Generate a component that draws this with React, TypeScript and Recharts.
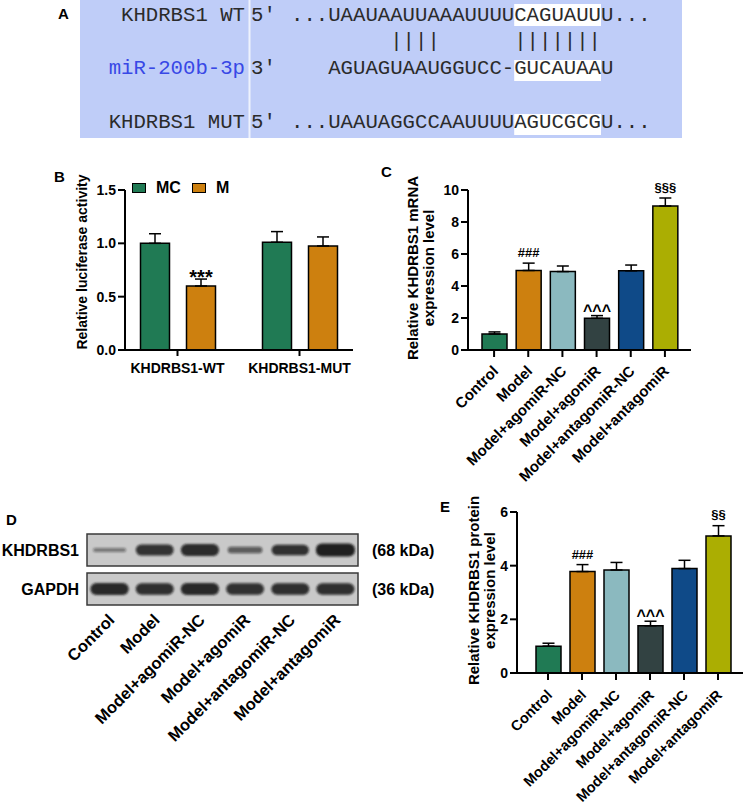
import React from 'react';
import {
  BarChart, Bar, XAxis, YAxis, ErrorBar, LabelList, Legend, Cell,
  ComposedChart, Scatter, ReferenceArea,
} from 'recharts';

const SANS = "'Liberation Sans', Arial, Helvetica, sans-serif";
const MONO = "'Liberation Mono', 'Courier New', monospace";

// ---------- Panel A: alignment ----------
const alignLabels = ['KHDRBS1 WT', 'miR-200b-3p', 'KHDRBS1 MUT'];
const alignEnds = ["5'", "3'", "5'"];
const alignSeqs = ['...UAAUAAUUAAAUUUUCAGUAUUU...', '   AGUAGUAAUGGUCC-GUCAUAAU', '...UAAUAGGCCAAUUUUAGUCGCGU...'];
const pairedColumns = [8, 9, 10, 11, 18, 19, 20, 21, 22, 23, 24];
const seedRange = [18, 24];

// ---------- Panel B: luciferase ----------
const lucCategories = ['KHDRBS1-WT', 'KHDRBS1-MUT'];
const lucSeries = ['MC', 'M'];
const mcValues = [1.0, 1.01];
const mcErrors = [0.09, 0.1];
const mValues = [0.6, 0.975];
const mErrors = [0.065, 0.085];
const mSig = ['***', ''];
const lucTicks = [0, 0.5, 1.0, 1.5];

// ---------- Panels C / D / E ----------
const groups = ['Control', 'Model', 'Model+agomiR-NC', 'Model+agomiR', 'Model+antagomiR-NC', 'Model+antagomiR'];
const groupColors = ['#207a54', '#cd800f', '#8bb9bf', '#324242', '#0f4a88', '#abae02'];
const mrnaValues = [1.0, 4.97, 4.9, 1.98, 4.95, 9.0];
const mrnaErrors = [0.13, 0.46, 0.35, 0.17, 0.36, 0.5];
const mrnaSig = ['', '###', '', '^^^', '', '§§§'];
const mrnaTicks = [0, 2, 4, 6, 8, 10];
const proteinValues = [1.0, 3.78, 3.84, 1.76, 3.89, 5.11];
const proteinErrors = [0.11, 0.26, 0.28, 0.17, 0.31, 0.38];
const proteinSig = ['', '###', '', '^^^', '', '§§'];
const proteinTicks = [0, 2, 4, 6];

// western blot band strength per lane (0..1)
const blotRows = ['KHDRBS1', 'GAPDH'];
const blotMass = ['(68 kDa)', '(36 kDa)'];
const khdrbs1Band = [0.25, 0.85, 0.9, 0.45, 0.8, 1.0];
const gapdhBand = [0.92, 0.88, 0.92, 0.86, 0.88, 0.88];
const rowLevel: Record<string, number> = { KHDRBS1: 1.55, GAPDH: 0.45 };
const rowSpan: Record<string, [number, number]> = { KHDRBS1: [1.1, 2], GAPDH: [0, 0.9] };

// ---------- helpers ----------
const sigStyle: Record<string, { size: number; dy: number }> = {
  '*': { size: 20, dy: 4.5 },
  '#': { size: 13, dy: -6 },
  '§': { size: 13, dy: -6.5 },
  '^': { size: 16, dy: 0 },
};

const makeSigLabel = (sigs: string[], values: number[], errors: number[]) => (props: any) => {
  const value = props.value;
  if (!value) return null;
  const i = sigs.indexOf(value);
  const vb = props.viewBox && props.viewBox.width !== undefined ? props.viewBox : props;
  const x = vb.x + vb.width / 2;
  const errPx = (Math.abs(vb.height) * errors[i]) / values[i];
  const top = Math.min(vb.y, vb.y + vb.height) - errPx;
  const st = sigStyle[value[0]] || { size: 14, dy: -4 };
  return (
    <text x={x} y={top + st.dy} textAnchor="middle" fontFamily={SANS} fontWeight="bold" fontSize={st.size} fill="#000">
      {value}
    </text>
  );
};

const axisTitle = (lines: string[], xs: number[], shift: number, fontSize: number) => (props: any) => {
  const vb = props.viewBox || { x: 0, y: 0, width: 0, height: 0 };
  const cy = vb.y + vb.height / 2 + shift;
  return (
    <g>
      {lines.map((ln, i) => {
        const cx = vb.x + xs[i];
        return (
          <text key={i} x={cx} y={cy} transform={`rotate(-90 ${cx} ${cy})`} textAnchor="middle"
            dominantBaseline="central" fontFamily={SANS} fontWeight="bold" fontSize={fontSize} fill="#000">
            {ln}
          </text>
        );
      })}
    </g>
  );
};

const RotatedTick = (props: any) => {
  const { x, y, payload, fontSize, dx, dy } = props;
  const ax = x + dx;
  const ay = y + dy;
  return (
    <text x={ax} y={ay} transform={`rotate(-45 ${ax} ${ay})`} textAnchor="end" fontFamily={SANS}
      fontWeight="bold" fontSize={fontSize} fill="#000">
      {payload.value}
    </text>
  );
};

const tickFont = { fontFamily: SANS, fontWeight: 'bold', fontSize: 14, fill: '#000' } as any;
const axisStroke = { stroke: '#000', strokeWidth: 2 };

// ---------- Panel A ----------
const COLW = 12.4;
const SEQ_X = 291;
const rowBase = [21, 74, 128];
const rowHiTop = [4, 60, 114];
const rowHiH = [22, 21, 21];
const rowColor = ['#2b2b2b', '#3848e6', '#2b2b2b'];

function PanelA() {
  return (
    <g>
      <rect x={80} y={0} width={602} height={138} fill="#bfcdf8" />
      <line x1={249.5} y1={0} x2={249.5} y2={138} stroke="#eef2fd" strokeWidth={2} />
      {alignSeqs.map((s, r) => (
        <g key={r}>
          <rect x={SEQ_X + seedRange[0] * COLW} y={rowHiTop[r]} width={(seedRange[1] - seedRange[0] + 1) * COLW}
            height={rowHiH[r]} fill="#ffffff" />
          <text x={245} y={rowBase[r]} textAnchor="end" fontFamily={MONO} fontSize={20.67} fill={rowColor[r]}
            xmlSpace="preserve" style={{ whiteSpace: 'pre' }}>
            {alignLabels[r]}
          </text>
          <text x={251} y={rowBase[r]} fontFamily={MONO} fontSize={20.67} fill="#2b2b2b">
            {alignEnds[r]}
          </text>
          {s.split('').map((ch, c) =>
            ch === ' ' ? null : (
              <text key={c} x={SEQ_X + c * COLW + COLW / 2} y={rowBase[r]} textAnchor="middle" fontFamily={MONO}
                fontSize={20.67} fill="#2b2b2b">
                {ch}
              </text>
            ),
          )}
        </g>
      ))}
      {pairedColumns.map((c) => (
        <text key={c} x={SEQ_X + c * COLW + COLW / 2} y={47} textAnchor="middle" fontFamily={MONO} fontSize={20.67}
          fill="#2b2b2b">
          |
        </text>
      ))}
    </g>
  );
}

const panelLetters = [
  { t: 'A', x: 58, y: 18.5 },
  { t: 'B', x: 54, y: 182 },
  { t: 'C', x: 381, y: 177 },
  { t: 'D', x: 6, y: 525 },
  { t: 'E', x: 440, y: 512 },
];

// ---------- Panel B ----------
function PanelB() {
  const data = lucCategories.map((c, i) => ({
    cat: c,
    MC: mcValues[i],
    mcErr: [0, mcErrors[i]],
    M: mValues[i],
    mErr: [0, mErrors[i]],
    sig: mSig[i],
  }));
  const legendContent = () => (
    <div style={{ display: 'flex', alignItems: 'center', fontFamily: SANS, fontWeight: 'bold', fontSize: 16, color: '#000' }}>
      {lucSeries.map((s, i) => (
        <div key={s} style={{ display: 'flex', alignItems: 'center', marginRight: 11 }}>
          <div style={{ width: 12, height: 8, border: '1.5px solid #000', background: groupColors[i], marginRight: 10 }} />
          <span>{s}</span>
        </div>
      ))}
    </div>
  );
  return (
    <BarChart width={330} height={240} data={data} margin={{ top: 40, right: 17, bottom: 0, left: 0 }} barSize={29} barGap={17}>
      <XAxis dataKey="cat" padding={{ left: -8.5, right: -7.5 }} axisLine={axisStroke} tickLine={axisStroke} tickSize={6}
        tickMargin={7} tick={tickFont} height={40} interval={0} />
      <YAxis type="number" domain={[0, 1.5]} ticks={lucTicks} tickFormatter={(v: number) => v.toFixed(1)} width={85}
        axisLine={axisStroke} tickLine={axisStroke} tickSize={7} tick={tickFont} interval={0}
        label={{ content: axisTitle(['Relative luciferase activity'], [42], -8, 14) }} />
      <Bar dataKey="MC" fill={groupColors[0]} stroke="#000" strokeWidth={1.5} isAnimationActive={false}>
        <ErrorBar dataKey="mcErr" width={6} stroke="#000" strokeWidth={1.5} direction="y" isAnimationActive={false} />
      </Bar>
      <Bar dataKey="M" fill={groupColors[1]} stroke="#000" strokeWidth={1.5} isAnimationActive={false}>
        <ErrorBar dataKey="mErr" width={6} stroke="#000" strokeWidth={1.5} direction="y" isAnimationActive={false} />
        <LabelList dataKey="sig" content={makeSigLabel(mSig, mValues, mErrors)} />
      </Bar>
      <Legend layout="vertical" align="center" verticalAlign="middle" content={legendContent}
        wrapperStyle={{ left: 92, top: 29, width: 160, height: 18 }} />
    </BarChart>
  );
}

// ---------- Panels C and E ----------
function ExpressionChart(props: {
  values: number[]; errors: number[]; sigs: string[]; ticks: number[]; width: number; height: number;
  margin: any; yWidth: number; xHeight: number; padding: any; title: string[]; titleX: number[]; labelSize: number; tickDy: number;
}) {
  const { values, errors, sigs, ticks } = props;
  const data = groups.map((g, i) => ({ group: g, value: values[i], err: [0, errors[i]], sig: sigs[i] }));
  return (
    <BarChart width={props.width} height={props.height} data={data} margin={props.margin} barSize={25}>
      <XAxis dataKey="group" padding={props.padding} axisLine={axisStroke} tickLine={axisStroke} tickSize={7} tickMargin={0}
        height={props.xHeight} interval={0}
        tick={(p: any) => <RotatedTick {...p} fontSize={props.labelSize} dx={5} dy={props.tickDy} />} />
      <YAxis type="number" domain={[ticks[0], ticks[ticks.length - 1]]} ticks={ticks} width={props.yWidth}
        axisLine={axisStroke} tickLine={axisStroke} tickSize={7} tick={tickFont} interval={0}
        label={{ content: axisTitle(props.title, props.titleX, -2, 15) }} />
      <Bar dataKey="value" stroke="#000" strokeWidth={1.5} isAnimationActive={false}>
        {groups.map((g, i) => (
          <Cell key={g} fill={groupColors[i]} />
        ))}
        <ErrorBar dataKey="err" width={6} stroke="#000" strokeWidth={1.5} direction="y" isAnimationActive={false} />
        <LabelList dataKey="sig" content={makeSigLabel(sigs, values, errors)} />
      </Bar>
    </BarChart>
  );
}

// ---------- Panel D: western blot ----------
const BlotBand = (props: any) => {
  const { cx, cy, strength } = props;
  if (cx == null || cy == null) return null;
  const h = 1 + 12 * strength;
  const w = 31 + 8 * strength;
  return (
    <g>
      <defs>
        <filter id="blotBlur" x="-30%" y="-100%" width="160%" height="300%">
          <feGaussianBlur stdDeviation="1.1" />
        </filter>
      </defs>
      <rect x={cx - w / 2} y={cy - h / 2} width={w} height={h} rx={Math.min(h / 2, 6)} fill="#141414"
        fillOpacity={0.3 + 0.65 * strength} filter="url(#blotBlur)" />
    </g>
  );
};

function PanelD() {
  const data = groups.map((g, i) => ({
    lane: g,
    khdrbs1: rowLevel.KHDRBS1,
    gapdh: rowLevel.GAPDH,
    kS: khdrbs1Band[i],
    gS: gapdhBand[i],
  }));
  const rowTicks = blotRows.map((r) => rowLevel[r]);
  const nameOf = (v: number) => blotRows.find((r) => Math.abs(rowLevel[r] - v) < 1e-6) || '';
  const massOf = (v: number) => blotMass[blotRows.indexOf(nameOf(v))] || '';
  const bigTick = { fontFamily: SANS, fontWeight: 'bold', fontSize: 16, fill: '#000' } as any;
  return (
    <ComposedChart width={450} height={260} data={data} margin={{ top: 34, right: 0, bottom: 0, left: 0 }}>
      <XAxis dataKey="lane" type="category" scale="band" padding={{ left: 4, right: 6 }} axisLine={false} tickLine={false}
        tickSize={0} tickMargin={0} height={155} interval={0}
        tick={(p: any) => <RotatedTick {...p} fontSize={16.5} dx={6} dy={16} />} />
      <YAxis yAxisId="left" type="number" domain={[0, 2]} ticks={rowTicks} tickFormatter={nameOf} width={83}
        axisLine={false} tickLine={false} tickSize={0} tickMargin={4} tick={bigTick} interval={0} />
      <YAxis yAxisId="right" orientation="right" type="number" domain={[0, 2]} ticks={rowTicks} tickFormatter={massOf}
        width={86} axisLine={false} tickLine={false} tickSize={0} tickMargin={8} tick={bigTick} interval={0} />
      {blotRows.map((r, i) => (
        <ReferenceArea key={r} yAxisId={i === 0 ? 'right' : 'left'} y1={rowSpan[r][0]} y2={rowSpan[r][1]} fill="#c9c9c9"
          fillOpacity={1} stroke="#3a3a3a" strokeWidth={1.5} ifOverflow="visible" />
      ))}
      <Scatter yAxisId="right" dataKey="khdrbs1" isAnimationActive={false}
        shape={(p: any) => <BlotBand cx={p.cx} cy={p.cy} strength={p.payload.kS} />} />
      <Scatter yAxisId="left" dataKey="gapdh" isAnimationActive={false}
        shape={(p: any) => <BlotBand cx={p.cx} cy={p.cy} strength={p.payload.gS} />} />
    </ComposedChart>
  );
}

export default function App() {
  return (
    <div style={{ position: 'absolute', left: 0, top: 0, width: 746, height: 809, background: '#fff', overflow: 'hidden' }}>
      <svg width={746} height={809} style={{ position: 'absolute', left: 0, top: 0 }}>
        <PanelA />
        {panelLetters.map((l) => (
          <text key={l.t} x={l.x} y={l.y} fontFamily={SANS} fontWeight="bold" fontSize={15} fill="#000">
            {l.t}
          </text>
        ))}
      </svg>
      <div style={{ position: 'absolute', left: 370, top: 160 }}>
        <ExpressionChart values={mrnaValues} errors={mrnaErrors} sigs={mrnaSig} ticks={mrnaTicks} width={376} height={340}
          margin={{ top: 30, right: 55, bottom: 0, left: 0 }} yWidth={98} xHeight={150} padding={{ left: 9, right: 9 }}
          title={['Relative KHDRBS1 mRNA', 'expression level']} titleX={[42, 58]} labelSize={15} tickDy={15} />
      </div>
      <div style={{ position: 'absolute', left: 40, top: 150 }}>
        <PanelB />
      </div>
      <div style={{ position: 'absolute', left: 0, top: 500 }}>
        <PanelD />
      </div>
      <div style={{ position: 'absolute', left: 400, top: 480 }}>
        <ExpressionChart values={proteinValues} errors={proteinErrors} sigs={proteinSig} ticks={proteinTicks} width={346}
          height={329} margin={{ top: 32, right: 3, bottom: 0, left: 0 }} yWidth={117} xHeight={136}
          padding={{ left: 14, right: 8 }} title={['Relative KHDRBS1 protein', 'expression level']} titleX={[73, 89]}
          labelSize={14.5} tickDy={16} />
      </div>
    </div>
  );
}
